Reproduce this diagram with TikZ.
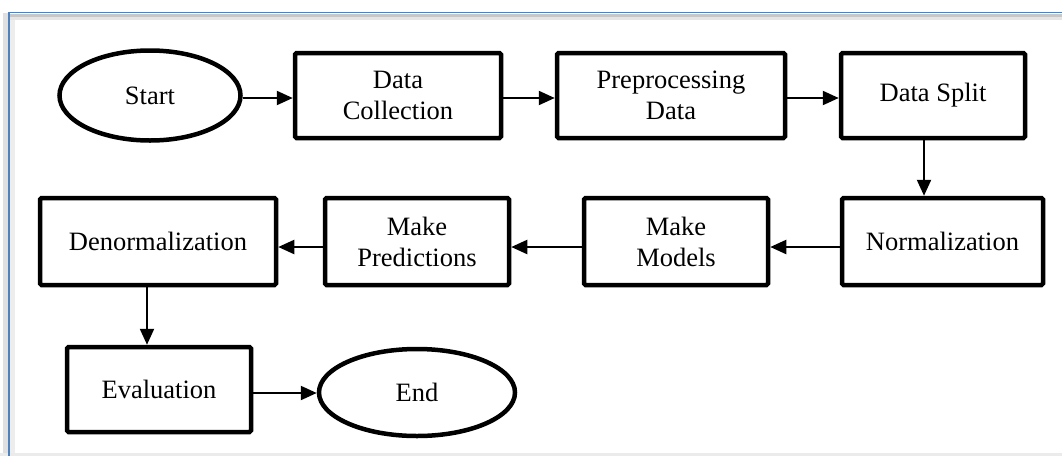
\documentclass[tikz,border=0pt]{standalone}
\usepackage{fontspec}
\setmainfont{Liberation Serif}
\usetikzlibrary{shapes.geometric,arrows.meta}
\definecolor{frameblue}{HTML}{4F81BD}
\begin{document}
\begin{tikzpicture}[x=1pt,y=-1pt,
  lbl/.style={font=\fontsize{26.5}{31}\selectfont,text=black},
  box/.style={lbl,draw,line width=4.5pt,rounded corners=1.5pt,inner sep=0pt,align=center,minimum height=85pt},
  oval/.style={lbl,ellipse,draw,line width=4.5pt,inner sep=0pt},
  arr/.style={line width=2.2pt,-{Triangle[length=16pt,width=14pt]}}]
\useasboundingbox (0,0) rectangle (1062,456);
\fill[white] (0,0) rectangle (1062,456);
% text-box frame with shadow
\fill[black!12] (3,13) rectangle (8,456);
\fill[black!7] (10,14) rectangle (15,456);
\fill[black!22] (10,13.5) rectangle (1062,17);
\fill[black!10] (10,17) rectangle (1062,20);
\fill[black!8] (0,453) rectangle (1062,456);
\draw[frameblue,line width=1.6pt] (9,456) -- (9,12.5) -- (1062,12.5);
% row 1
\node[oval,minimum width=181pt,minimum height=90pt] (start) at (150,95.5) {Start};
\node[box,minimum width=206pt] (dc) at (398,95.5) {Data\\Collection};
\node[box,minimum width=228pt] (pre) at (671,95.5) {Preprocessing\\Data};
\node[box,minimum width=184pt] (split) at (933,95.5) {Data Split};
% row 2
\node[box,minimum width=201pt,minimum height=87pt] (norm) at (942.5,241.5) {Normalization};
\node[box,minimum width=184pt,minimum height=87pt] (models) at (676,241.5) {Make\\Models};
\node[box,minimum width=184pt,minimum height=87pt] (pred) at (417,241.5) {Make\\Predictions};
\node[box,minimum width=236pt,minimum height=87pt] (denorm) at (158,241.5) {Denormalization};
% row 3
\node[box,minimum width=184pt] (eval) at (159,389.5) {Evaluation};
\node[oval,minimum width=196pt,minimum height=87pt] (end) at (417,392.5) {End};
% connectors
\draw[arr] ([yshift=-2.5pt]start.east) -- ([yshift=-2.5pt]start.east -| dc.west);
\draw[arr] ([yshift=-2.5pt]dc.east) -- ([yshift=-2.5pt]dc.east -| pre.west);
\draw[arr] ([yshift=-2.5pt]pre.east) -- ([yshift=-2.5pt]pre.east -| split.west);
\draw[arr] ([xshift=-9pt]split.south) -- ([xshift=-9pt]split.south |- norm.north);
\draw[arr] ([yshift=-5.5pt]norm.west) -- ([yshift=-5.5pt]norm.west -| models.east);
\draw[arr] ([yshift=-5.5pt]models.west) -- ([yshift=-5.5pt]models.west -| pred.east);
\draw[arr] ([yshift=-5.5pt]pred.west) -- ([yshift=-5.5pt]pred.west -| denorm.east);
\draw[arr] ([xshift=-11pt]denorm.south) -- ([xshift=-11pt]denorm.south |- eval.north);
\draw[arr] ([yshift=-3.5pt]eval.east) -- ([yshift=-3.5pt]eval.east -| end.west);
\end{tikzpicture}
\end{document}
